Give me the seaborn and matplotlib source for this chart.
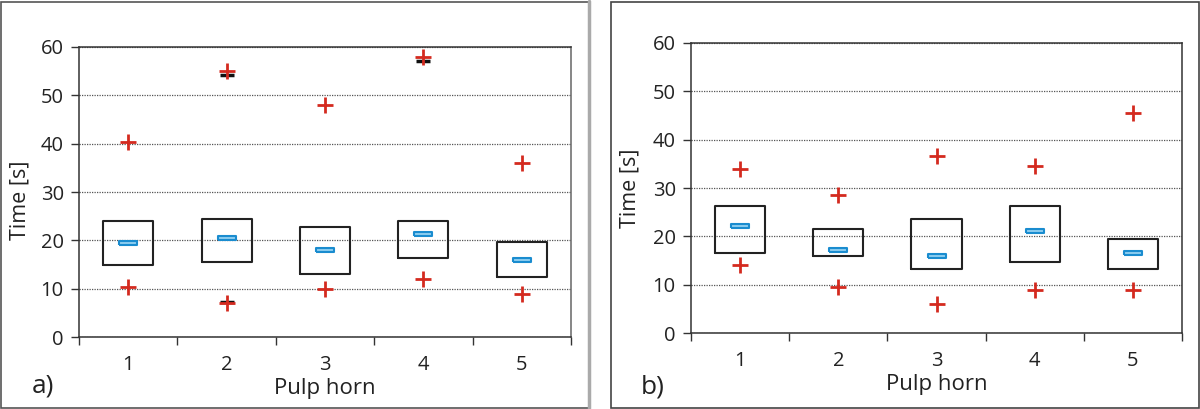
import numpy as np
import pandas as pd
import matplotlib
matplotlib.use('Agg')
import matplotlib.pyplot as plt
import seaborn as sns
from matplotlib.patches import Rectangle

sns.set_theme(style='white')
plt.rcParams['font.family'] = ['Open Sans', 'DejaVu Sans']

# Data
horns = ['1', '2', '3', '4', '5']

# panel a)
a_q1 = [14.9, 15.5, 13.0, 16.45, 12.4]
a_q3 = [23.95, 24.4, 22.7, 24.1, 19.6]
a_med = [19.55, 20.4, 18.0, 21.25, 16.0]
a_max = [40.4, 55.0, 48.0, 57.9, 36.05]
a_min = [10.45, 7.0, 10.0, 12.05, 9.0]
# black whisker ends that peek out from under the crosses
a_cap_hi = [np.nan, 54.2, np.nan, 57.0, np.nan]
a_cap_lo = [np.nan, 7.2, np.nan, np.nan, np.nan]

# panel b)
b_q1 = [16.5, 15.96, 13.3, 14.65, 13.3]
b_q3 = [26.35, 21.6, 23.6, 26.35, 19.55]
b_med = [22.1, 17.3, 16.0, 21.05, 16.5]
b_max = [34.0, 28.55, 36.6, 34.6, 45.5]
b_min = [14.0, 9.55, 6.1, 9.0, 9.0]
b_cap_hi = [np.nan] * 5
b_cap_lo = [np.nan] * 5

RED = '#d42a1f'
BAR = [(-1, -0.22), (1, -0.22), (1, 0.22), (-1, 0.22), (-1, -0.22)]


def draw_panel(ax, q1, q3, med, vmax, vmin, cap_hi, cap_lo):
    pos = np.arange(len(horns))
    stats = []
    for i in range(len(horns)):
        stats.append({'med': med[i], 'q1': q1[i], 'q3': q3[i],
                      'whislo': q1[i], 'whishi': q3[i], 'fliers': []})
    ax.bxp(stats, positions=pos, widths=0.51, showfliers=False, showcaps=False,
           boxprops=dict(color='#222222', linewidth=1.5),
           whiskerprops=dict(linewidth=0),
           medianprops=dict(linewidth=0), zorder=3)

    dc = pd.DataFrame({'x': np.concatenate([pos, pos]),
                       'y': np.concatenate([cap_hi, cap_lo])}).dropna()
    if len(dc):
        sns.scatterplot(data=dc, x='x', y='y', marker='_', color='#111111',
                        s=95, linewidth=2.5, ax=ax, zorder=4)

    df = pd.DataFrame({'x': np.concatenate([pos, pos]),
                       'y': np.concatenate([vmax, vmin])})
    sns.scatterplot(data=df, x='x', y='y', marker='+', color=RED, s=120,
                    linewidth=2.0, ax=ax, zorder=5)
    dm = pd.DataFrame({'x': pos, 'y': med})
    sns.scatterplot(data=dm, x='x', y='y', marker=BAR, s=150,
                    facecolor='#8ccdf0', edgecolor='#1a8ccf', linewidth=1.5,
                    ax=ax, zorder=6)

    ax.set_xlim(-0.5, len(horns) - 0.5)
    ax.set_ylim(0, 60)
    ax.set_yticks(range(0, 61, 10))
    ax.set_xticks(np.arange(-0.5, len(horns), 1.0))
    ax.set_xticklabels([])
    ax.set_xticks(pos, minor=True)
    ax.set_xticklabels(horns, minor=True)
    ax.tick_params(axis='x', which='major', direction='out', length=6, width=1,
                   color='#333333', bottom=True)
    ax.tick_params(axis='x', which='minor', length=0, pad=13, labelsize=14.5,
                   labelcolor='#222222')
    ax.tick_params(axis='y', direction='out', length=6, width=1, color='#333333',
                   left=True, labelsize=14.5, labelcolor='#222222', pad=5)
    ax.yaxis.grid(True, linestyle=(0, (1, 1)), color='#555555', linewidth=0.9)
    ax.set_axisbelow(True)
    for s in ax.spines.values():
        s.set_visible(True)
        s.set_color('#333333')
        s.set_linewidth(1.1)
    ax.set_xlabel('Pulp horn', fontsize=16, color='#222222', labelpad=2)
    ax.set_ylabel('Time [s]', fontsize=15.5, color='#222222')


fig = plt.figure(figsize=(12, 4.09), dpi=100)
ax1 = fig.add_axes([79 / 1200, 1 - 337.3 / 409, 492 / 1200, 290.6 / 409])
ax2 = fig.add_axes([691 / 1200, 1 - 333.3 / 409, 491 / 1200, 290.6 / 409])

draw_panel(ax1, a_q1, a_q3, a_med, a_max, a_min, a_cap_hi, a_cap_lo)
draw_panel(ax2, b_q1, b_q3, b_med, b_max, b_min, b_cap_hi, b_cap_lo)
ax1.spines['right'].set_color('#666666')
ax1.yaxis.set_label_coords(-0.098, 0.47)
ax2.yaxis.set_label_coords(-0.102, 0.5)

# panel frames
fig.add_artist(Rectangle((1 / 1200, 1 / 409), 588 / 1200, 406 / 409,
                         transform=fig.transFigure, fill=False,
                         edgecolor='#555555', linewidth=1.2))
fig.add_artist(plt.Line2D([589 / 1200, 589 / 1200], [1 / 409, 408 / 409],
                          transform=fig.transFigure, color='#aaaaaa',
                          linewidth=2.5))
fig.add_artist(Rectangle((610.5 / 1200, 1 / 409), 588 / 1200, 406.5 / 409,
                         transform=fig.transFigure, fill=False,
                         edgecolor='#444444', linewidth=1.2))

fig.text(32 / 1200, 1 - 386 / 409, 'a)', fontsize=19, va='center',
         color='#222222')
fig.text(641 / 1200, 1 - 387 / 409, 'b)', fontsize=19, va='center',
         color='#222222')

fig.savefig('out.png', dpi=100)
plt.close(fig)
